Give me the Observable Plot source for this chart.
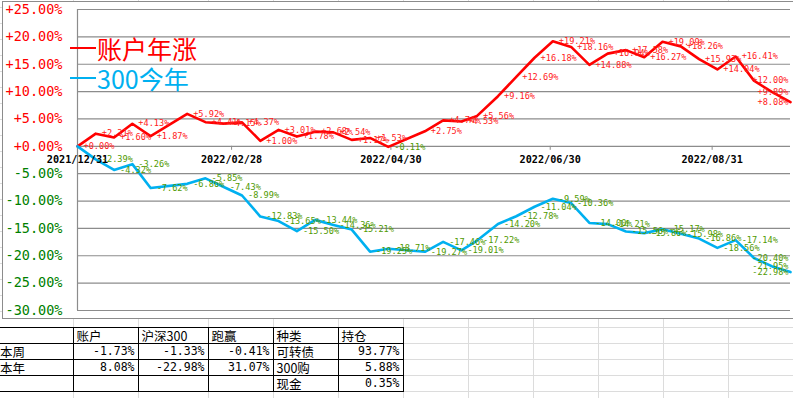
<!DOCTYPE html>
<html><head><meta charset="utf-8">
<script src="https://cdn.jsdelivr.net/npm/d3@7"></script>
<script src="https://cdn.jsdelivr.net/npm/@observablehq/plot@0.6"></script>
<style>
body{margin:0;background:#fff;width:793px;height:398px;overflow:hidden;position:relative;}
.gl{position:absolute;background:#dcdcdc;}
#chartbox{position:absolute;left:2px;top:1px;width:820px;height:318px;border:1px solid #8c8c8c;box-sizing:border-box;background:#fff;}
#chart{position:absolute;left:0;top:0;}
.leg{position:absolute;left:70px;height:30px;display:flex;align-items:center;font-family:"Noto Sans CJK SC";font-size:25px;white-space:nowrap;}
.leg .key{width:26px;height:2.5px;margin-right:1px;}
table{position:absolute;left:0;top:327px;border-collapse:collapse;table-layout:fixed;background:#fff;}
td{border:1px solid #000;height:15px;padding:0 3px 0 3px;line-height:15px;font-family:"Noto Sans CJK SC";font-size:12.5px;overflow:hidden;white-space:nowrap;}
td.num{text-align:right;font-family:"DejaVu Sans Mono";font-size:11.5px;}
td.first{border-left:none;padding-left:0;}
</style>
</head><body>
<div id="grid"></div>
<div id="chartbox"></div>
<div id="chart"></div>
<div id="legend"></div>
<table id="tbl"></table>
<script>
// ---- data ----
const dates = ["2021-12-31","2022-01-07","2022-01-14","2022-01-21","2022-01-28","2022-02-11","2022-02-18","2022-02-25","2022-03-04","2022-03-11","2022-03-18","2022-03-25","2022-04-01","2022-04-08","2022-04-15","2022-04-22","2022-04-29","2022-05-13","2022-05-20","2022-05-27","2022-06-02","2022-06-10","2022-06-17","2022-06-24","2022-07-01","2022-07-08","2022-07-15","2022-07-22","2022-07-29","2022-08-05","2022-08-12","2022-08-19","2022-08-26","2022-09-02","2022-09-09","2022-09-16","2022-09-23","2022-09-30"];
const accountPct = [0.00,2.31,1.60,4.13,1.87,5.92,4.41,4.15,4.37,1.00,3.01,1.78,2.68,2.54,1.17,1.53,-0.11,2.75,4.74,4.53,5.56,9.16,12.69,16.18,19.21,18.16,14.88,16.94,17.58,16.27,19.09,18.26,15.93,14.04,16.41,12.00,9.89,8.08];
const csi300Pct = [0.00,-2.39,-4.32,-3.26,-7.62,-6.86,-5.85,-7.43,-8.99,-12.83,-13.65,-15.50,-13.44,-14.36,-15.21,-19.25,-18.71,-19.27,-17.46,-19.01,-17.22,-14.20,-12.78,-11.04,-9.59,-10.36,-14.00,-14.21,-15.56,-15.86,-15.17,-15.98,-16.86,-18.56,-17.14,-20.40,-21.95,-22.98];
const yTicks = [-30,-25,-20,-15,-10,-5,0,5,10,15,20,25];
const xTickLabels = ["2021/12/31","2022/02/28","2022/04/30","2022/06/30","2022/08/31"];
const seriesNames = ["账户年涨","300今年"];
const seriesColors = ["#ff0000","#00b0f0"];
const tableHead = ["","账户","沪深300","跑赢","种类","持仓"];
const tableRows = [
  ["本周","-1.73%","-1.33%","-0.41%","可转债","93.77%"],
  ["本年","8.08%","-22.98%","31.07%","300购","5.88%"],
  ["","","","","现金","0.35%"]
];
// spreadsheet layout (cell edges)
const colEdges = [72.7,138.3,208.3,273.3,338.3,403.3,468.3,533.3,598.3,663.3,728.3,793.3];
const colWidths = [73,65,70,65,65,65];

// ---- background sheet grid ----
const grid = document.getElementById("grid");
colEdges.forEach(x=>{const d=document.createElement("div");d.className="gl";d.style.cssText=`left:${x}px;top:0;width:1px;height:398px`;grid.appendChild(d);});
for(let y=391;y>-10;y-=16){const d=document.createElement("div");d.className="gl";d.style.cssText=`left:0;top:${y}px;width:793px;height:1px`;grid.appendChild(d);}

// ---- chart ----
const parse = d3.utcParse("%Y-%m-%d");
const parseTick = d3.utcParse("%Y/%m/%d");
const rows = dates.map((d,i)=>({date:parse(d), account:accountPct[i], csi:csi300Pct[i], i}));
const n = rows.length;
const tickDates = xTickLabels.map(s=>({date:parseTick(s), label:s}));
const fmt = v => (v>=0?"+":"")+v.toFixed(2)+"%";
const RED_L = "#ff2020", GREEN_L = "#4f9a00", AX_RED="#ff0000", AX_GREEN="#008000";
const lbl = {fontSize:8.6, fontFamily:"DejaVu Sans Mono"};

const acct = rows.map(r=>({date:r.date, v:r.account, i:r.i}));
const csi = rows.map(r=>({date:r.date, v:r.csi, i:r.i})).filter(d=>d.i>0);
const mainA = acct.filter(d=>d.i<n-3), endA = acct.filter(d=>d.i>=n-3);
const mainC = csi.filter(d=>d.i<n-3), endC = csi.filter(d=>d.i>=n-3);
const labelMarks = (arr)=>[
  Plot.text(arr.filter(d=>d.v>=0),{x:"date",y:"v",text:d=>fmt(d.v),dx:6,textAnchor:"start",fill:RED_L,...lbl}),
  Plot.text(arr.filter(d=>d.v<0),{x:"date",y:"v",text:d=>fmt(d.v),dx:6,textAnchor:"start",fill:GREEN_L,...lbl})
];
const endMarks = (arr)=>[
  Plot.text(arr.filter(d=>d.v>=0),{y:"v",text:d=>fmt(d.v),frameAnchor:"right",textAnchor:"end",dx:-2,fill:RED_L,...lbl}),
  Plot.text(arr.filter(d=>d.v<0),{y:"v",text:d=>fmt(d.v),frameAnchor:"right",textAnchor:"end",dx:-2,fill:GREEN_L,...lbl})
];

const chart = Plot.plot({
  width:793, height:319,
  marginLeft:77, marginRight:3, marginTop:9, marginBottom:9,
  style:{background:"transparent", fontFamily:"DejaVu Sans Mono", overflow:"visible"},
  x:{type:"utc", domain:[rows[0].date, rows[n-1].date], axis:null},
  y:{domain:[-30,25], axis:null},
  marks:[
    Plot.ruleY(yTicks,{stroke:"#8c8c8c", strokeWidth:1.2}),
    Plot.ruleX([rows[0].date],{stroke:"#8c8c8c", strokeWidth:1.2}),
    Plot.ruleX(tickDates,{x:"date", y1:0, y2:0, insetBottom:-4, stroke:"#8c8c8c"}),
    Plot.text(yTicks.filter(v=>v>=0),{y:d=>d,text:fmt,frameAnchor:"left",textAnchor:"end",dx:-15,fill:AX_RED,fontSize:13.5}),
    Plot.text(yTicks.filter(v=>v<0),{y:d=>d,text:fmt,frameAnchor:"left",textAnchor:"end",dx:-15,fill:AX_GREEN,fontSize:13.5}),
    Plot.line(rows,{x:"date",y:"account",stroke:seriesColors[0],strokeWidth:2.6}),
    Plot.line(rows,{x:"date",y:"csi",stroke:seriesColors[1],strokeWidth:2.6}),
    Plot.text(tickDates,{x:"date",y:0,text:"label",dy:13,fill:"#000",fontWeight:"bold",fontSize:10.2}),
    ...labelMarks(mainA), ...endMarks(endA),
    ...labelMarks(mainC), ...endMarks(endC)
  ]
});
document.getElementById("chart").appendChild(chart);

// ---- legend ----
const leg = document.getElementById("legend");
seriesNames.forEach((s,k)=>{
  const d=document.createElement("div");d.className="leg";
  d.style.top=(33+k*30)+"px";d.style.color=seriesColors[k];
  d.innerHTML=`<span class="key" style="background:${seriesColors[k]}"></span><span>${s}</span>`;
  leg.appendChild(d);
});

// ---- table ----
const tbl = document.getElementById("tbl");
const cg=document.createElement("colgroup");
colWidths.forEach(w=>{const c=document.createElement("col");c.style.width=w+"px";cg.appendChild(c);});
tbl.appendChild(cg);
[tableHead,...tableRows].forEach(r=>{
  const tr=document.createElement("tr");
  r.forEach((c,j)=>{
    const td=document.createElement("td");td.textContent=c;
    if(/^-?[\d.]+%$/.test(c)) td.className="num";
    if(j===0) td.classList.add("first");
    tr.appendChild(td);
  });
  tbl.appendChild(tr);
});
</script>
</body></html>
